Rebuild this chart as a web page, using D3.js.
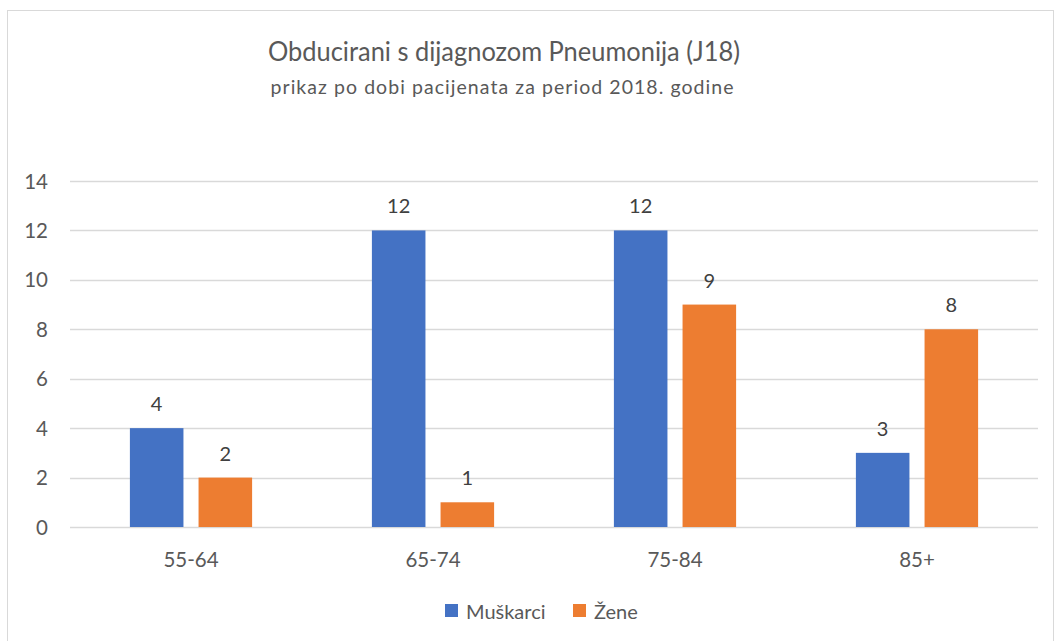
<!DOCTYPE html>
<html>
<head>
<meta charset="utf-8">
<script src="https://cdn.jsdelivr.net/npm/d3@7"></script>
<style>
  body { margin: 0; background: #fff; }
  svg { display: block; }
  text { font-family: Lato, "Open Sans", sans-serif; }
</style>
</head>
<body>
<svg id="chart"></svg>
<script>
const WIDTH = 1056
const HEIGHT = 641

const categories = ["55-64", "65-74", "75-84", "85+"]
const seriesNames = ["Muškarci", "Žene"]
const muskarci = [4, 12, 12, 3]
const zene = [2, 1, 9, 8]
const yTicks = [0, 2, 4, 6, 8, 10, 12, 14]
const colors = ["#4472C4", "#ED7D31"]

const margin = { top: 181, left: 70, right: 18, bottom: 114 }

const svg = d3.select("#chart").attr("width", WIDTH).attr("height", HEIGHT)

// chart border
svg.append("rect")
  .attr("x", 7.5).attr("y", 10.5)
  .attr("width", WIDTH - 10).attr("height", HEIGHT - 8)
  .attr("fill", "#fff").attr("stroke", "#d9d9d9")

svg.append("text")
  .attr("x", 504).attr("y", 61)
  .attr("text-anchor", "middle")
  .attr("font-size", 27).attr("fill", "#595959")
  .attr("textLength", 472).attr("lengthAdjust", "spacingAndGlyphs")
  .text("Obducirani s dijagnozom Pneumonija  (J18)")

svg.append("text")
  .attr("x", 502).attr("y", 94)
  .attr("text-anchor", "middle")
  .attr("font-size", 19.5).attr("fill", "#595959")
  .attr("textLength", 463).attr("lengthAdjust", "spacing")
  .text("prikaz po dobi pacijenata za period 2018. godine")

const x0 = d3.scaleBand()
  .domain(categories)
  .range([margin.left, WIDTH - margin.right])

const x1 = d3.scaleBand()
  .domain(seriesNames)
  .range([0, x0.bandwidth() * 0.505])
  .paddingInner(0.22)

const y = d3.scaleLinear()
  .domain([0, 14])
  .range([HEIGHT - margin.bottom, margin.top])

// gridlines
svg.append("g")
  .selectAll("line")
  .data(yTicks)
  .enter()
  .append("line")
    .attr("x1", margin.left).attr("x2", WIDTH - margin.right)
    .attr("y1", d => Math.round(y(d)) + 0.5).attr("y2", d => Math.round(y(d)) + 0.5)
    .attr("stroke", "#d9d9d9").attr("stroke-width", 1.3)

// y labels
svg.append("g")
  .selectAll("text")
  .data(yTicks)
  .enter()
  .append("text")
    .attr("x", 48).attr("y", d => y(d) + 7.5)
    .attr("text-anchor", "end")
    .attr("font-size", 20.5).attr("fill", "#595959")
    .text(d => d)

const rows = categories.map((c, i) => ({ cat: c, values: [muskarci[i], zene[i]] }))

const groups = svg.append("g")
  .selectAll("g")
  .data(rows)
  .enter()
  .append("g")
    .attr("transform", d => `translate(${x0(d.cat) + x0.bandwidth() * 0.2475},0)`)

groups.selectAll("rect")
  .data(d => d.values.map((v, i) => ({ name: seriesNames[i], value: v, idx: i })))
  .enter()
  .append("rect")
    .attr("x", d => x1(d.name))
    .attr("width", x1.bandwidth())
    .attr("y", d => y(d.value))
    .attr("height", d => y(0) - y(d.value))
    .attr("fill", d => colors[d.idx])

groups.selectAll("text")
  .data(d => d.values.map((v, i) => ({ name: seriesNames[i], value: v })))
  .enter()
  .append("text")
    .attr("x", d => x1(d.name) + x1.bandwidth() / 2)
    .attr("y", d => y(d.value) - 17)
    .attr("text-anchor", "middle")
    .attr("font-size", 20).attr("fill", "#404040")
    .text(d => d.value)

// x labels
svg.append("g")
  .selectAll("text")
  .data(categories)
  .enter()
  .append("text")
    .attr("x", d => x0(d) + x0.bandwidth() / 2)
    .attr("y", 567)
    .attr("text-anchor", "middle")
    .attr("font-size", 20.5).attr("fill", "#595959")
    .text(d => d)

// legend
const legendX = [445, 573]
const legend = svg.append("g")
  .selectAll("g")
  .data(seriesNames)
  .enter()
  .append("g")
    .attr("transform", (d, i) => `translate(${legendX[i]},604)`)

legend.append("rect")
  .attr("width", 13).attr("height", 13)
  .attr("fill", (d, i) => colors[i])

legend.append("text")
  .attr("x", 21).attr("y", 15)
  .attr("font-size", 20).attr("fill", "#595959")
  .text(d => d)
</script>
</body>
</html>
